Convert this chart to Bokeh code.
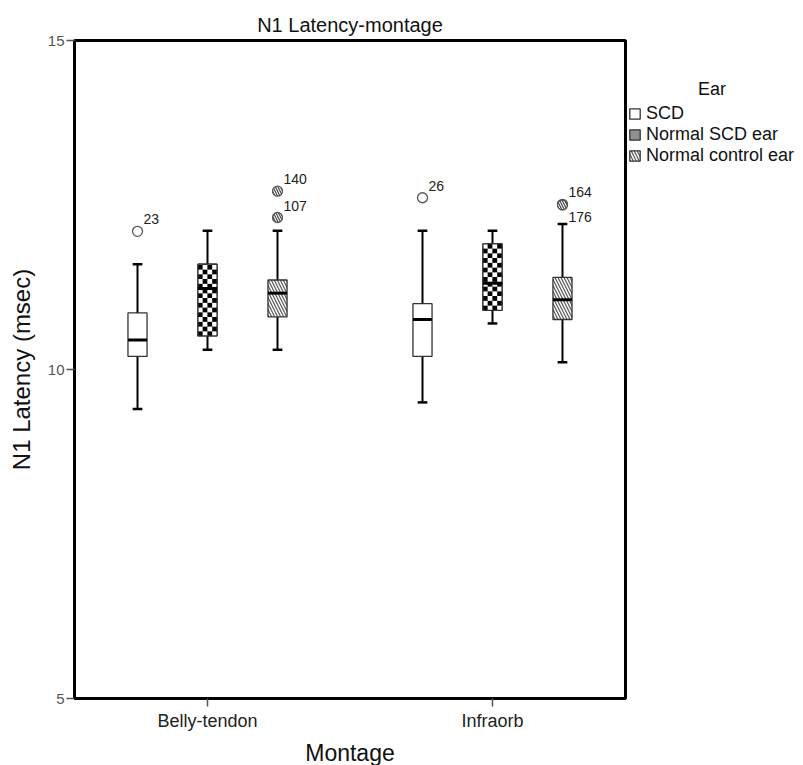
import math
from bokeh.plotting import figure
from bokeh.models import (ColumnDataSource, Range1d, FixedTicker, Legend, LegendItem,
                          CanvasTexture)
from bokeh.core.properties import value
from bokeh.embed import file_html
from bokeh.resources import INLINE

# ---------------- data ----------------
montages = ["Belly-tendon", "Infraorb"]
ears = ["SCD", "Normal SCD ear", "Normal control ear"]
legend_title = "Ear"

# per ear: values for [Belly-tendon, Infraorb]
lower = {"SCD": [9.40, 9.50], "Normal SCD ear": [10.30, 10.70], "Normal control ear": [10.30, 10.11]}
q1 = {"SCD": [10.20, 10.20], "Normal SCD ear": [10.51, 10.90], "Normal control ear": [10.80, 10.76]}
median = {"SCD": [10.45, 10.76], "Normal SCD ear": [11.23, 11.31], "Normal control ear": [11.16, 11.06]}
q3 = {"SCD": [10.86, 11.00], "Normal SCD ear": [11.60, 11.91], "Normal control ear": [11.36, 11.40]}
upper = {"SCD": [11.60, 12.11], "Normal SCD ear": [12.11, 12.11], "Normal control ear": [12.11, 12.21]}

# outliers
out_montage = ["Belly-tendon", "Belly-tendon", "Belly-tendon", "Infraorb", "Infraorb", "Infraorb"]
out_ear = ["SCD", "Normal control ear", "Normal control ear", "SCD", "Normal control ear", "Normal control ear"]
out_value = [12.10, 12.31, 12.71, 12.61, 12.51, 12.50]
out_case = ["23", "107", "140", "26", "164", "176"]
out_label_side = ["above", "above", "above", "above", "above", "below"]

y_ticks = [5, 10, 15]

# ---------------- styling ----------------
FONT = "Liberation Sans"
offset = {"SCD": -0.2456, "Normal SCD ear": 0.0, "Normal control ear": 0.2456}
box_w = 0.067
cap_w = 0.034
checker_cols = 4
checker_cell_h = 0.0722   # in y units (~4.75 px)

checker = CanvasTexture(code="""
ctx.fillStyle = '#ffffff';
ctx.fillRect(0, 0, scale, scale);
ctx.fillStyle = '#000000';
var h = scale / 2;
ctx.fillRect(0, 0, h, h);
ctx.fillRect(h, h, h, h);
""", repetition="repeat")

hatch = {
    "SCD": dict(hatch_pattern=value(" ")),
    "Normal SCD ear": dict(hatch_pattern=value("chk"), hatch_extra={"chk": checker},
                           hatch_color="black", hatch_scale=6),
    "Normal control ear": dict(hatch_pattern=value("left_diagonal_line"), hatch_color="#555555",
                               hatch_scale=6, hatch_weight=1.2),
}

p = figure(width=803, height=765, output_backend="svg", toolbar_location=None,
           x_range=Range1d(0.0333, 1.9667), y_range=Range1d(5, 15),
           frame_width=551, frame_height=658,
           min_border_left=74, min_border_right=178, min_border_top=40, min_border_bottom=67,
           title="N1 Latency-montage")

p.title.align = "center"
p.title.text_font = FONT
p.title.text_font_size = "20px"
p.title.text_font_style = "normal"
p.title.text_color = "#111111"
p.title.standoff = 10

p.xgrid.visible = False
p.ygrid.visible = False
p.outline_line_color = "black"
p.outline_line_width = 3
p.background_fill_color = "white"
p.border_fill_color = "white"

cat_pos = {m: i + 0.5 for i, m in enumerate(montages)}

# x axis
p.xaxis.ticker = FixedTicker(ticks=[cat_pos[m] for m in montages])
p.xaxis.major_label_overrides = {cat_pos[m]: m for m in montages}
p.xaxis.axis_label = "Montage"
# y axis
p.yaxis.ticker = FixedTicker(ticks=y_ticks)
p.yaxis.axis_label = "N1 Latency (msec)"

for ax in (p.xaxis[0], p.yaxis[0]):
    ax.axis_line_color = "black"
    ax.axis_line_width = 3
    ax.major_tick_in = 0
    ax.major_tick_out = 8
    ax.major_tick_line_color = "#555555"
    ax.major_tick_line_width = 1.5
    ax.minor_tick_line_color = None
    ax.major_label_text_font = FONT
    ax.axis_label_text_font = FONT
    ax.axis_label_text_font_style = "normal"
    ax.axis_label_text_color = "#111111"

p.xaxis.major_label_text_font_size = "18px"
p.xaxis.major_label_text_color = "#222222"
p.xaxis.major_label_standoff = 4
p.xaxis.axis_label_text_font_size = "23px"
p.xaxis.axis_label_standoff = 6
p.yaxis.major_label_text_font_size = "15px"
p.yaxis.major_label_text_color = "#555555"
p.yaxis.major_label_standoff = 2
p.yaxis.axis_label_text_font_size = "24px"
p.yaxis.axis_label_standoff = 10

legend_items = []
for ear in ears:
    xs = [cat_pos[m] + offset[ear] for m in montages]
    src = ColumnDataSource(dict(x=xs, lower=lower[ear], q1=q1[ear], med=median[ear],
                                q3=q3[ear], upper=upper[ear],
                                cl=[x - cap_w / 2 for x in xs], cr=[x + cap_w / 2 for x in xs],
                                ml=[x - box_w / 2 for x in xs], mr=[x + box_w / 2 for x in xs]))
    # whiskers
    p.segment(x0="x", y0="lower", x1="x", y1="q1", source=src, line_color="black", line_width=2)
    p.segment(x0="x", y0="q3", x1="x", y1="upper", source=src, line_color="black", line_width=2)
    p.segment(x0="cl", y0="lower", x1="cr", y1="lower", source=src, line_color="black", line_width=2.5)
    p.segment(x0="cl", y0="upper", x1="cr", y1="upper", source=src, line_color="black", line_width=2.5)
    # box
    r = p.vbar(x="x", width=box_w, top="q3", bottom="q1", source=src,
               fill_color="white", line_color="#333333", line_width=1.3, **hatch[ear])
    if ear == "Normal SCD ear":
        # crisp checkerboard made of small cells covering each box
        L, R, B, T, C = [], [], [], [], []
        cw = box_w / checker_cols
        for x, lo, hi in zip(xs, q1[ear], q3[ear]):
            rows = math.ceil((hi - lo) / checker_cell_h - 1e-9)
            for j in range(rows):
                y0 = lo + j * checker_cell_h
                y1 = min(hi, y0 + checker_cell_h)
                for i in range(checker_cols):
                    x0 = x - box_w / 2 + i * cw
                    L.append(x0); R.append(x0 + cw); B.append(y0); T.append(y1)
                    C.append("black" if (i + j) % 2 == 0 else "white")
        p.quad(left=L, right=R, bottom=B, top=T, fill_color=C, line_color=None)
        p.vbar(x="x", width=box_w, top="q3", bottom="q1", source=src,
               fill_color=None, line_color="#333333", line_width=1.3)
    # median
    p.segment(x0="ml", y0="med", x1="mr", y1="med", source=src, line_color="black", line_width=3)
    legend_items.append(LegendItem(label=ear, renderers=[r]))

# outliers
ox = [cat_pos[m] + offset[e] for m, e in zip(out_montage, out_ear)]
is_ctrl = [e == "Normal control ear" for e in out_ear]
plain = ColumnDataSource(dict(x=[x for x, c in zip(ox, is_ctrl) if not c],
                              y=[v for v, c in zip(out_value, is_ctrl) if not c]))
ctrl = ColumnDataSource(dict(x=[x for x, c in zip(ox, is_ctrl) if c],
                             y=[v for v, c in zip(out_value, is_ctrl) if c]))
p.scatter(x="x", y="y", source=plain, size=10, marker="circle", fill_color="white",
          line_color="#555555", line_width=1.3)
p.scatter(x="x", y="y", source=ctrl, size=10, marker="circle", fill_color="white",
          line_color="#555555", line_width=1.3, hatch_pattern=value("left_diagonal_line"),
          hatch_color="#444444", hatch_scale=5, hatch_weight=1.2)

for side, yoff, base in (("above", -7, "bottom"), ("below", 7, "top")):
    idx = [i for i, s in enumerate(out_label_side) if s == side]
    lsrc = ColumnDataSource(dict(x=[ox[i] for i in idx], y=[out_value[i] for i in idx],
                                 t=[out_case[i] for i in idx]))
    p.text(x="x", y="y", text="t", source=lsrc, x_offset=6, y_offset=yoff,
           text_baseline=base, text_align="left", text_font=value(FONT),
           text_font_size="14px", text_color="#222222")

legend = Legend(items=legend_items, location=(3, 532), orientation="vertical",
                title="\u00a0" * 14 + legend_title, title_standoff=3,
                title_text_font=FONT, title_text_font_size="18px", title_text_font_style="normal",
                title_text_color="#111111",
                glyph_width=13, glyph_height=13, label_height=16, spacing=0,
                label_text_font=FONT, label_text_font_size="18px", label_text_color="#111111",
                label_standoff=5, padding=0, margin=0, border_line_color=None,
                background_fill_alpha=0, inactive_fill_alpha=0)
p.add_layout(legend, "right")

open("out.html", "w").write(file_html(p, INLINE))
